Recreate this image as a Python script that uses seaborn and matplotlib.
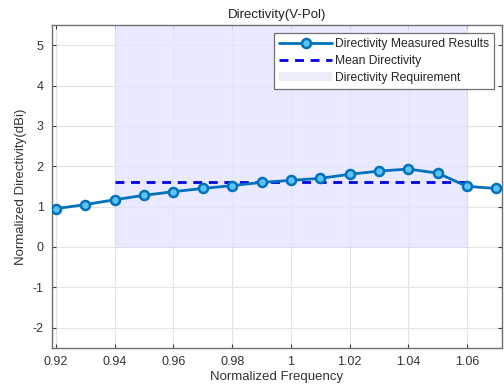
import matplotlib
matplotlib.use("Agg")
import matplotlib.pyplot as plt
import seaborn as sns
import numpy as np
import pandas as pd
from matplotlib.patches import Patch
from matplotlib.lines import Line2D

freq = [0.92, 0.93, 0.94, 0.95, 0.96, 0.97, 0.98, 0.99, 1.00, 1.01, 1.02, 1.03, 1.04, 1.05, 1.06, 1.07]
directivity = [0.95, 1.05, 1.17, 1.28, 1.37, 1.45, 1.52, 1.60, 1.65, 1.70, 1.80, 1.88, 1.93, 1.83, 1.50, 1.45]
mean_x = [0.94, 1.06]
mean_y = [1.6, 1.6]
req_x = [0.94, 1.06]
req_y = [0.0, 5.5]
xticks = [0.92, 0.94, 0.96, 0.98, 1.00, 1.02, 1.04, 1.06]
xtick_labels = ["0.92", "0.94", "0.96", "0.98", "1", "1.02", "1.04", "1.06"]
yticks = [-2, -1, 0, 1, 2, 3, 4, 5]

sns.set_style("white")
plt.rcParams['font.family'] = ['Liberation Sans', 'DejaVu Sans']
plt.rcParams['axes.unicode_minus'] = False

fig = plt.figure(figsize=(5.04, 3.9), dpi=100)
ax = fig.add_axes([0.103, 0.108, 0.893, 0.828])

ax.fill_between(req_x, req_y[0], req_y[1], color=(0.90, 0.90, 1.0), alpha=0.85,
                edgecolor=(0.85, 0.85, 0.95), linewidth=0.6, zorder=1)

mfc = "#5EC3EE"
df = pd.DataFrame({"freq": freq, "dir": directivity})
sns.lineplot(data=df, x="freq", y="dir", ax=ax, color="#0072BD", linewidth=2,
             marker="o", markersize=6.5, markerfacecolor=mfc,
             markeredgecolor="#0072BD", markeredgewidth=1.8, zorder=3)

dfm = pd.DataFrame({"x": mean_x, "y": mean_y})
sns.lineplot(data=dfm, x="x", y="y", ax=ax, color="#0000DD", linewidth=2,
             linestyle=(0, (3.2, 2.4)), zorder=2)

ax.set_xlim(0.9186, 1.0719)
ax.set_ylim(-2.5, 5.5)
ax.set_xticks(xticks)
ax.set_xticklabels(xtick_labels)
ax.set_yticks(yticks)
ax.grid(True, color="#E4E4E4", linewidth=0.8)
ax.set_axisbelow(True)
for s in ax.spines.values():
    s.set_color("#707070")
    s.set_linewidth(1.0)
ax.tick_params(direction="in", length=3, width=0.8, color="#404040",
               labelsize=9, labelcolor="#333333", top=True, right=True,
               bottom=True, left=True, pad=6)

ax.set_xlabel("Normalized Frequency", fontsize=9.5, color="#333333", labelpad=2)
ax.set_ylabel("Normalized Directivity(dBi)", fontsize=9.5, color="#333333", labelpad=4)
ax.set_title("Directivity(V-Pol)", fontsize=9.5, color="#222222", pad=5)

handles = [
    Line2D([0], [0], color="#0072BD", lw=2, marker="o", markersize=6.5,
           markerfacecolor=mfc, markeredgecolor="#0072BD", markeredgewidth=1.8),
    Line2D([0], [0], color="#0000DD", lw=2, linestyle=(0, (3.2, 2.4))),
    Patch(facecolor=(0.93, 0.93, 0.98), edgecolor="none"),
]
labels = ["Directivity Measured Results", "Mean Directivity", "Directivity Requirement"]
leg = ax.legend(handles, labels, loc="upper right", fontsize=8.7, frameon=True,
                fancybox=False, framealpha=1, edgecolor="#707070",
                borderpad=0.4, labelspacing=0.4, handlelength=4.4,
                handletextpad=0.2, borderaxespad=0.7)
leg.get_frame().set_linewidth(0.9)

fig.savefig("out.png", dpi=100)
